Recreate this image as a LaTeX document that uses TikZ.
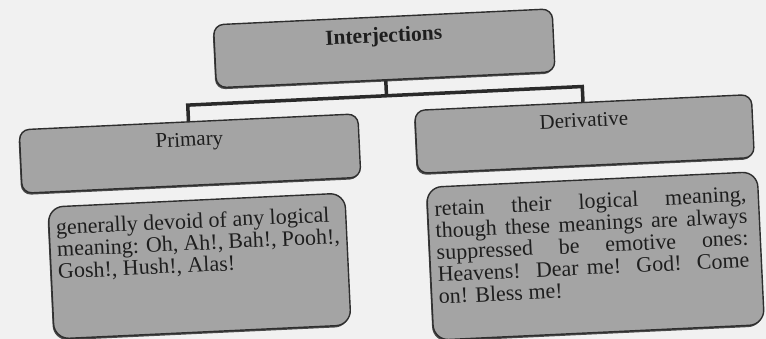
\documentclass[tikz,border=0pt]{standalone}
\usepackage{fontspec}
\setmainfont{Liberation Serif}
\usetikzlibrary{shadows}

\definecolor{paper}{HTML}{F1F1F1}
\definecolor{boxgray}{HTML}{A4A4A4}
\definecolor{edge}{HTML}{2E2E2E}
\definecolor{ink}{HTML}{1E1E1E}
\definecolor{wire}{HTML}{2A2A2A}

\tikzset{
  boxbase/.style={draw=edge, line width=1.4pt, fill=boxgray, text=ink,
    drop shadow={shadow xshift=-1pt, shadow yshift=-1.8pt, fill=edge, opacity=.85}},
  labelbox/.style={boxbase, rounded corners=10pt, inner xsep=0pt, inner ysep=0pt,
    text height=24.5pt, text depth=39pt, font=\fontsize{21}{22}\selectfont},
  notebox/.style={boxbase, rounded corners=15pt, inner xsep=7pt, inner ysep=0pt,
    font=\fontsize{22}{22}\selectfont},
  wirestyle/.style={draw=wire, line width=3.5pt, line join=miter}
}

\begin{document}
\begin{tikzpicture}[x=1pt, y=1pt]
  \useasboundingbox (0,0) rectangle (766,-339);
  \fill[paper] (0,0) rectangle (766,-339);

  \begin{scope}[rotate around={2.7:(383,-170)}, transform shape]
    % root and the two kinds
    \node[labelbox, minimum width=339pt, text height=25.5pt, text depth=37.5pt,
          font=\fontsize{21.5}{22}\selectfont\bfseries] (interj) at (390,-48.5) {Interjections};
    \node[labelbox, minimum width=339pt] (primary) at (191,-144.5) {Primary};
    \node[labelbox, minimum width=337pt, text depth=38.5pt] (derivative) at (586,-143.5) {Derivative};

    % descriptions
    \node[notebox] (primtext) at (195.2,-257.3)
      {\parbox[t][132pt][t]{283pt}{\raggedright\rule{0pt}{28pt}generally devoid of any logical\\
        meaning: Oh, Ah!, Bah!, Pooh!,\\
        Gosh!, Hush!, Alas!}};
    \node[notebox] (derivtext) at (591.2,-265.9)
      {\parbox[t][153pt][t]{317pt}{\tolerance=10000\hbadness=10000\rightskip=5pt
        \rule{0pt}{29pt}retain their logical meaning,\linebreak
        though these meanings are always\linebreak
        suppressed be emotive ones:\linebreak
        Heavens! Dear me! God! Come\linebreak
        on! Bless me!}};

    % tree connectors
    \coordinate (fork) at (390,-96);
    \coordinate (forkL) at (191,-96);
    \coordinate (forkR) at (586,-96);
    \draw[wirestyle] (interj.south) -- (fork);
    \draw[wirestyle] (primary.north) -- (forkL) -- (forkR) -- (derivative.north);
  \end{scope}
\end{tikzpicture}
\end{document}
